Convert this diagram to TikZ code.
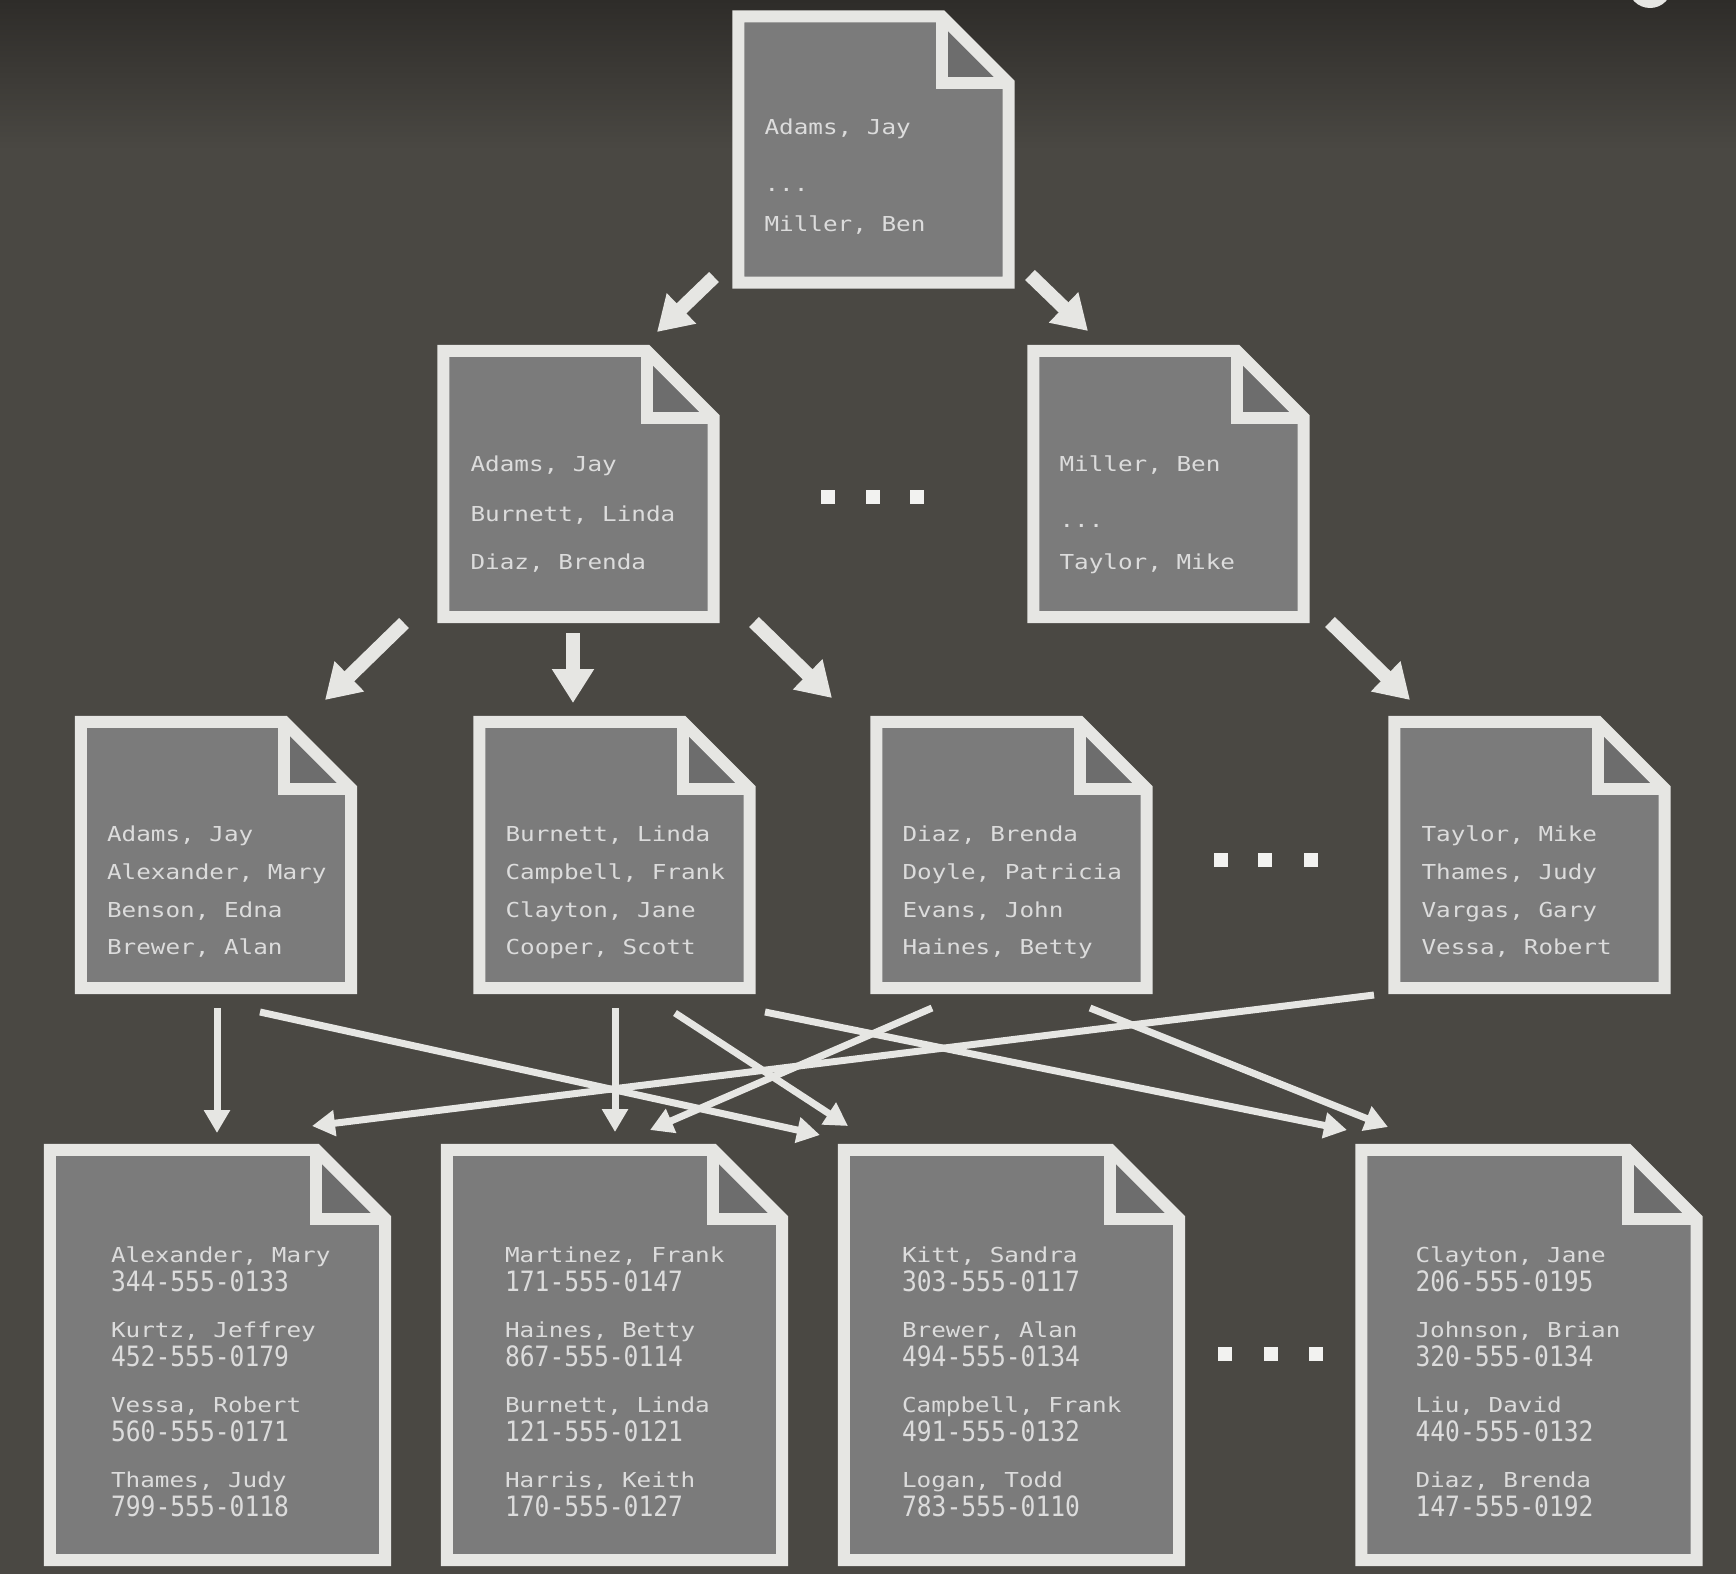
\documentclass[tikz,border=0pt]{standalone}
\usepackage{fontspec}
\newfontfamily\namefont[FakeStretch=1.18]{DejaVu Sans Mono}
\newfontfamily\numfont[FakeStretch=0.88]{DejaVu Sans Mono}
\usetikzlibrary{arrows.meta,calc}
\pgfdeclarelayer{bg}
\pgfdeclarelayer{docs}
\pgfsetlayers{bg,docs,main}
\definecolor{bgtop}{HTML}{2E2C29}
\definecolor{bgmain}{HTML}{4A4843}
\definecolor{docfill}{HTML}{7B7B7B}
\definecolor{foldfill}{HTML}{6D6D6D}
\definecolor{edge}{HTML}{E6E6E3}
\definecolor{txt}{HTML}{DCDCDC}
\definecolor{dotcol}{HTML}{F2F2F0}
\tikzset{
  doc/.style={draw=none,fill=none,inner sep=0pt,minimum width=270pt,minimum height=266pt},
  bigdoc/.style={doc,minimum width=335pt,minimum height=410pt},
  nm/.style={anchor=base west,inner sep=0pt,text=txt,font=\namefont\fontsize{20.6}{24}\selectfont},
  num/.style={nm,font=\numfont\fontsize{28}{30}\selectfont},
  docedge/.style={draw=edge,line width=12pt,line join=miter},
  bigarrow/.style={draw=edge,line width=14pt,-{Triangle[width=40pt,length=34pt]}},
  thinarrow/.style={draw=edge,line width=7pt,-{Triangle[width=25pt,length=23pt]}},
}
% document shape around a named node: #1 name, #2 fold size
\newcommand\drawdoc[2]{%
  \begin{pgfonlayer}{docs}
    \fill[docfill] (#1.north west) -- ($(#1.north east)+(-#2,0)$) -- ($(#1.north east)+(0,#2)$)
      -- (#1.south east) -- (#1.south west) -- cycle;
    \fill[foldfill] ($(#1.north east)+(-#2,0)$) -- ($(#1.north east)+(-#2,#2)$) -- ($(#1.north east)+(0,#2)$) -- cycle;
    \draw[docedge] (#1.north west) -- ($(#1.north east)+(-#2,0)$) -- ($(#1.north east)+(0,#2)$)
      -- (#1.south east) -- (#1.south west) -- cycle;
    \draw[docedge] ($(#1.north east)+(-#2,0)$) -- ($(#1.north east)+(-#2,#2)$) -- ($(#1.north east)+(0,#2)$);
  \end{pgfonlayer}}
% text line: #1 style, #2 name, #3 doc node, #4 offset, #5 text
\newcommand\tline[5]{\node[#1] (#2) at ($(#3.north west)+(#4)$) {#5};}
\newcommand\dotsq[1]{\fill[dotcol] (#1) +(-7,-7) rectangle +(7,7);}
\begin{document}
\begin{tikzpicture}[x=1pt,y=-1pt]
\useasboundingbox (0,0) rectangle (1736,1574);
\begin{pgfonlayer}{bg}
  \fill[bgmain] (0,0) rectangle (1736,1574);
  \shade[top color=bgtop,bottom color=bgmain] (0,0) rectangle (1736,150);
\end{pgfonlayer}
\fill[edge] (1650,-14) circle (22);

% documents
\node[doc] (root) at (873.5,149.5) {};
\node[doc] (l2a) at (578.5,484) {};
\node[doc] (l2b) at (1168.5,484) {};
\node[doc] (l3a) at (216,855) {};
\node[doc] (l3b) at (614.5,855) {};
\node[doc] (l3c) at (1011.5,855) {};
\node[doc] (l3d) at (1529.5,855) {};
\node[bigdoc] (l4a) at (217.5,1355) {};
\node[bigdoc] (l4b) at (614.5,1355) {};
\node[bigdoc] (l4c) at (1011.5,1355) {};
\node[bigdoc] (l4d) at (1529,1355) {};
\foreach \d in {root,l2a,l2b,l3a,l3b,l3c,l3d}{\drawdoc{\d}{67}}
\foreach \d in {l4a,l4b,l4c,l4d}{\drawdoc{\d}{69}}

% texts
\tline{nm}{root1}{root}{26,118}{Adams, Jay}
\tline{nm}{root2}{root}{26,175}{...}
\tline{nm}{root3}{root}{26,215}{Miller, Ben}

\tline{nm}{l2a1}{l2a}{27,121}{Adams, Jay}
\tline{nm}{l2a2}{l2a}{27,171}{Burnett, Linda}
\tline{nm}{l2a3}{l2a}{27,219}{Diaz, Brenda}

\tline{nm}{l2b1}{l2b}{26,121}{Miller, Ben}
\tline{nm}{l2b2}{l2b}{26,177}{...}
\tline{nm}{l2b3}{l2b}{26,219}{Taylor, Mike}

\tline{nm}{l3a1}{l3a}{26,120}{Adams, Jay}
\tline{nm}{l3a2}{l3a}{26,158}{Alexander, Mary}
\tline{nm}{l3a3}{l3a}{26,196}{Benson, Edna}
\tline{nm}{l3a4}{l3a}{26,233}{Brewer, Alan}

\tline{nm}{l3b1}{l3b}{26,120}{Burnett, Linda}
\tline{nm}{l3b2}{l3b}{26,158}{Campbell, Frank}
\tline{nm}{l3b3}{l3b}{26,196}{Clayton, Jane}
\tline{nm}{l3b4}{l3b}{26,233}{Cooper, Scott}

\tline{nm}{l3c1}{l3c}{26,120}{Diaz, Brenda}
\tline{nm}{l3c2}{l3c}{26,158}{Doyle, Patricia}
\tline{nm}{l3c3}{l3c}{26,196}{Evans, John}
\tline{nm}{l3c4}{l3c}{26,233}{Haines, Betty}

\tline{nm}{l3d1}{l3d}{27,120}{Taylor, Mike}
\tline{nm}{l3d2}{l3d}{27,158}{Thames, Judy}
\tline{nm}{l3d3}{l3d}{27,196}{Vargas, Gary}
\tline{nm}{l3d4}{l3d}{27,233}{Vessa, Robert}

\tline{nm}{l4a1}{l4a}{61,113}{Alexander, Mary}
\tline{num}{l4a2}{l4a}{61,142}{344-555-0133}
\tline{nm}{l4a3}{l4a}{61,188}{Kurtz, Jeffrey}
\tline{num}{l4a4}{l4a}{61,217}{452-555-0179}
\tline{nm}{l4a5}{l4a}{61,263}{Vessa, Robert}
\tline{num}{l4a6}{l4a}{61,292}{560-555-0171}
\tline{nm}{l4a7}{l4a}{61,338}{Thames, Judy}
\tline{num}{l4a8}{l4a}{61,367}{799-555-0118}

\tline{nm}{l4b1}{l4b}{58,113}{Martinez, Frank}
\tline{num}{l4b2}{l4b}{58,142}{171-555-0147}
\tline{nm}{l4b3}{l4b}{58,188}{Haines, Betty}
\tline{num}{l4b4}{l4b}{58,217}{867-555-0114}
\tline{nm}{l4b5}{l4b}{58,263}{Burnett, Linda}
\tline{num}{l4b6}{l4b}{58,292}{121-555-0121}
\tline{nm}{l4b7}{l4b}{58,338}{Harris, Keith}
\tline{num}{l4b8}{l4b}{58,367}{170-555-0127}

\tline{nm}{l4c1}{l4c}{58,113}{Kitt, Sandra}
\tline{num}{l4c2}{l4c}{58,142}{303-555-0117}
\tline{nm}{l4c3}{l4c}{58,188}{Brewer, Alan}
\tline{num}{l4c4}{l4c}{58,217}{494-555-0134}
\tline{nm}{l4c5}{l4c}{58,263}{Campbell, Frank}
\tline{num}{l4c6}{l4c}{58,292}{491-555-0132}
\tline{nm}{l4c7}{l4c}{58,338}{Logan, Todd}
\tline{num}{l4c8}{l4c}{58,367}{783-555-0110}

\tline{nm}{l4d1}{l4d}{54,113}{Clayton, Jane}
\tline{num}{l4d2}{l4d}{54,142}{206-555-0195}
\tline{nm}{l4d3}{l4d}{54,188}{Johnson, Brian}
\tline{num}{l4d4}{l4d}{54,217}{320-555-0134}
\tline{nm}{l4d5}{l4d}{54,263}{Liu, David}
\tline{num}{l4d6}{l4d}{54,292}{440-555-0132}
\tline{nm}{l4d7}{l4d}{54,338}{Diaz, Brenda}
\tline{num}{l4d8}{l4d}{54,367}{147-555-0192}

% ellipsis dots
\dotsq{828,497}\dotsq{873,497}\dotsq{917,497}
\dotsq{1221,860}\dotsq{1265,860}\dotsq{1311,860}
\dotsq{1225,1354}\dotsq{1271,1354}\dotsq{1316,1354}

% arrow end points
\coordinate (t1s) at (714,277);  \coordinate (t1e) at (657,332);
\coordinate (t2s) at (1030,275); \coordinate (t2e) at (1088,331);
\coordinate (t3s) at (404,623);  \coordinate (t3e) at (325,700);
\coordinate (t4s) at (573,633);  \coordinate (t4e) at (573,703);
\coordinate (t5s) at (754,622);  \coordinate (t5e) at (832,698);
\coordinate (t6s) at (1330,622); \coordinate (t6e) at (1410,700);
\draw[bigarrow] (t1s) -- (t1e);
\draw[bigarrow] (t2s) -- (t2e);
\draw[bigarrow] (t3s) -- (t3e);
\draw[bigarrow] (t4s) -- (t4e);
\draw[bigarrow] (t5s) -- (t5e);
\draw[bigarrow] (t6s) -- (t6e);

\coordinate (a1s) at (217,1008);  \coordinate (a1e) at (217,1133);
\coordinate (a2s) at (260,1012);  \coordinate (a2e) at (820,1135);
\coordinate (a3s) at (615,1008);  \coordinate (a3e) at (615,1132);
\coordinate (a4s) at (675,1013);  \coordinate (a4e) at (848,1126);
\coordinate (a5s) at (765,1012);  \coordinate (a5e) at (1347,1130);
\coordinate (a6s) at (932,1008);  \coordinate (a6e) at (650,1130);
\coordinate (a7s) at (1090,1008); \coordinate (a7e) at (1388,1127);
\coordinate (a8s) at (1374,995);  \coordinate (a8e) at (312,1126);
\foreach \i in {1,...,8}{\draw[thinarrow] (a\i s) -- (a\i e);}
\end{tikzpicture}
\end{document}
